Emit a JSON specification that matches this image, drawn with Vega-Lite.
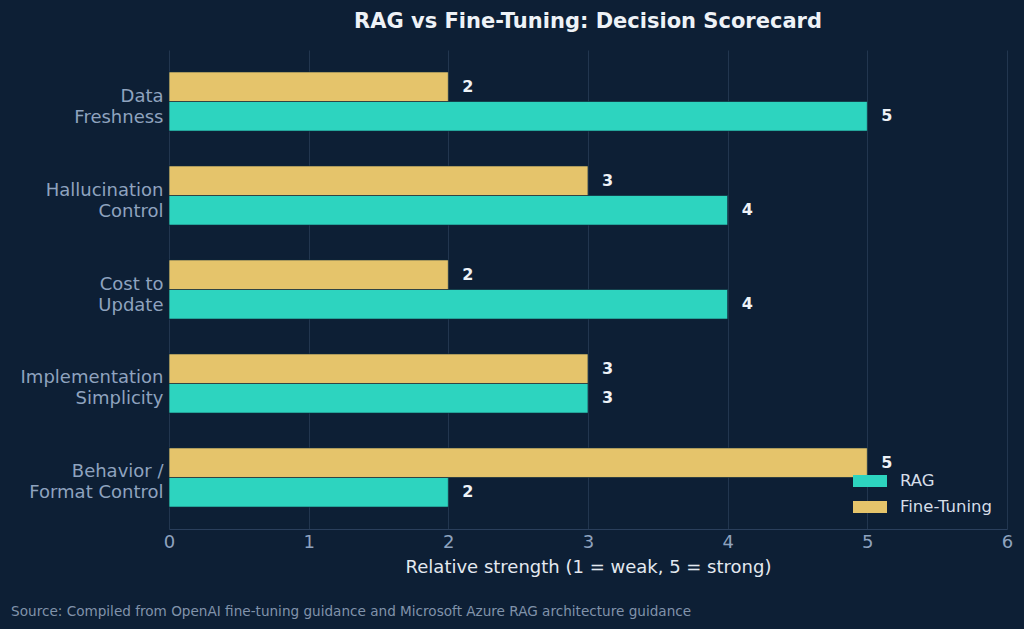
{
  "$schema": "https://vega.github.io/schema/vega-lite/v6.json",
  "background": "#0d1f35",
  "padding": {"left": 11, "top": 11, "right": 12, "bottom": 11},
  "config": {
    "font": "DejaVu Sans",
    "view": {"stroke": null},
    "concat": {"spacing": 0}
  },
  "title": {
    "text": "Source: Compiled from OpenAI fine-tuning guidance and Microsoft Azure RAG architecture guidance",
    "orient": "bottom",
    "anchor": "start",
    "frame": "bounds",
    "font": "DejaVu Sans",
    "fontSize": 13.6,
    "fontWeight": "normal",
    "color": "#8193ab",
    "offset": 29,
    "dx": -9
  },
  "vconcat": [
    {
      "width": 838,
      "height": 479,
      "title": {
        "text": "RAG vs Fine-Tuning: Decision Scorecard",
        "anchor": "middle",
        "font": "DejaVu Sans",
        "fontSize": 21,
        "fontWeight": "bold",
        "color": "#eef2f7",
        "offset": 18
      },
      "data": {
        "values": [
          {"category": "Data\nFreshness", "approach": "RAG", "score": 5},
          {"category": "Data\nFreshness", "approach": "Fine-Tuning", "score": 2},
          {"category": "Hallucination\nControl", "approach": "RAG", "score": 4},
          {"category": "Hallucination\nControl", "approach": "Fine-Tuning", "score": 3},
          {"category": "Cost to\nUpdate", "approach": "RAG", "score": 4},
          {"category": "Cost to\nUpdate", "approach": "Fine-Tuning", "score": 2},
          {"category": "Implementation\nSimplicity", "approach": "RAG", "score": 3},
          {"category": "Implementation\nSimplicity", "approach": "Fine-Tuning", "score": 3},
          {"category": "Behavior /\nFormat Control", "approach": "RAG", "score": 2},
          {"category": "Behavior /\nFormat Control", "approach": "Fine-Tuning", "score": 5}
        ]
      },
      "encoding": {
        "y": {
          "field": "category",
          "type": "nominal",
          "sort": null,
          "scale": {"paddingInner": 0.37, "paddingOuter": 0.233},
          "axis": {
            "title": null,
            "domain": false,
            "ticks": false,
            "grid": false,
            "labelExpr": "split(datum.value, '\\n')",
            "labelFont": "DejaVu Sans",
            "labelFontSize": 18,
            "labelColor": "#8fa3bf",
            "labelLineHeight": 21,
            "labelOffset": -5,
            "labelPadding": 6,
            "labelLimit": 300
          }
        },
        "yOffset": {
          "field": "approach",
          "type": "nominal",
          "sort": ["Fine-Tuning", "RAG"]
        },
        "x": {
          "field": "score",
          "type": "quantitative",
          "scale": {"domain": [0, 6], "nice": false},
          "axis": {
            "title": "Relative strength (1 = weak, 5 = strong)",
            "values": [0, 1, 2, 3, 4, 5, 6],
            "format": "d",
            "ticks": false,
            "grid": true,
            "gridColor": "#22364f",
            "gridWidth": 1,
            "domain": true,
            "domainColor": "#2a3f5c",
            "domainWidth": 1,
            "labelFlush": false,
            "labelFont": "DejaVu Sans",
            "labelFontSize": 18,
            "labelColor": "#8fa3bf",
            "labelPadding": 4,
            "titleFont": "DejaVu Sans",
            "titleFontSize": 18,
            "titleFontWeight": "normal",
            "titleColor": "#e3e9f0",
            "titlePadding": 7
          }
        }
      },
      "layer": [
        {
          "mark": {"type": "bar", "stroke": "#0f2a3a", "strokeWidth": 1, "strokeOpacity": 0.7},
          "encoding": {
            "color": {
              "field": "approach",
              "type": "nominal",
              "scale": {"domain": ["RAG", "Fine-Tuning"], "range": ["#2dd4bf", "#e5c46b"]},
              "legend": {
                "title": null,
                "orient": "none",
                "legendX": 684,
                "legendY": 414,
                "symbolType": "M-1,-0.353H1V0.353H-1Z",
                "symbolSize": 1156,
                "symbolStrokeWidth": 0,
                "labelFont": "DejaVu Sans",
                "labelFontSize": 16.5,
                "labelColor": "#d6dee8",
                "labelOffset": 13,
                "rowPadding": -4
              }
            }
          }
        },
        {
          "mark": {
            "type": "text",
            "align": "left",
            "baseline": "middle",
            "dx": 14,
            "font": "DejaVu Sans",
            "fontSize": 16,
            "fontWeight": "bold",
            "color": "#eef2f7"
          },
          "encoding": {
            "text": {"field": "score", "type": "quantitative"}
          }
        }
      ]
    }
  ]
}
